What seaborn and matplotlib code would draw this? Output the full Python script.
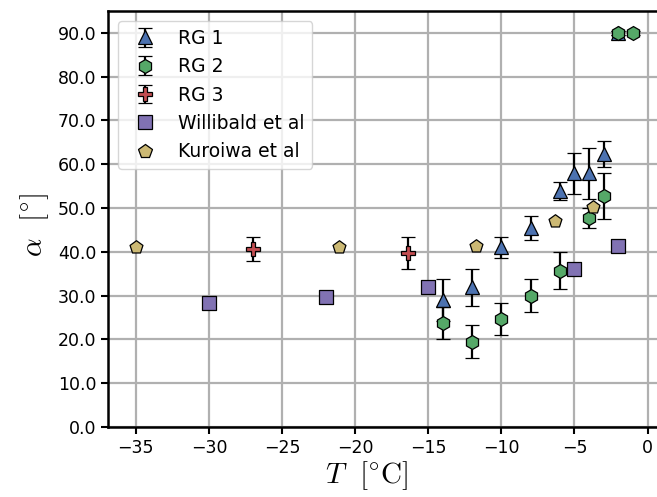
import matplotlib
matplotlib.use("Agg")
import matplotlib.pyplot as plt
import seaborn as sns
import pandas as pd
from matplotlib.ticker import FormatStrFormatter
from matplotlib.lines import Line2D

# ---- data ----
rg1_T = [-14, -12, -10, -8, -6, -5, -4, -3, -2]
rg1_a = [29.0, 31.9, 41.0, 45.5, 53.9, 57.9, 57.9, 62.4, 90.0]
rg1_e = [4.8, 4.2, 2.4, 2.7, 2.1, 4.7, 5.9, 3.0, 0.4]

rg2_T = [-14, -12, -10, -8, -6, -4, -3, -2, -1]
rg2_a = [23.8, 19.5, 24.7, 30.0, 35.7, 47.8, 52.7, 90.0, 90.0]
rg2_e = [3.7, 3.8, 3.7, 3.8, 4.2, 2.3, 5.2, 0.4, 0.4]

rg3_T = [-27, -16.4]
rg3_a = [40.7, 39.7]
rg3_e = [2.7, 3.7]

will_T = [-30, -22, -15, -5, -2]
will_a = [28.3, 29.8, 31.9, 36.0, 41.4]

kuro_T = [-35, -21.1, -11.7, -6.3, -3.7]
kuro_a = [41.2, 41.2, 41.3, 47.1, 50.3]

labels = ["RG 1", "RG 2", "RG 3", "Willibald et al", "Kuroiwa et al"]
x_ticks = [-35, -30, -25, -20, -15, -10, -5, 0]
y_ticks = [0, 10, 20, 30, 40, 50, 60, 70, 80, 90]

# ---- style ----
sns.set_style("ticks")
plt.rcParams["font.family"] = ["DejaVu Sans"]
plt.rcParams["mathtext.fontset"] = "cm"
plt.rcParams["text.color"] = "black"
plt.rcParams["axes.labelcolor"] = "black"
plt.rcParams["xtick.color"] = "black"
plt.rcParams["ytick.color"] = "black"
pal = sns.color_palette("deep")
c_blue, c_green, c_red, c_purple, c_gold = pal[0], pal[2], pal[3], pal[4], pal[8]

W, H = 657, 497
fig = plt.figure(figsize=(W / 100, H / 100), dpi=100)
ax = fig.add_axes([108 / W, 70 / H, (658.5 - 108) / W, (427 - 11) / H])

ms = 10
ekw = dict(ecolor="black", elinewidth=1.6, capsize=5, capthick=1.6,
           markeredgecolor="black", markeredgewidth=0.9, markersize=ms,
           linestyle="none")

h1 = ax.errorbar(rg1_T, rg1_a, yerr=rg1_e, fmt="^", color=c_blue, zorder=3, **ekw)
h2 = ax.errorbar(rg2_T, rg2_a, yerr=rg2_e, fmt="h", color=c_green, zorder=4, **ekw)
h3 = ax.errorbar(rg3_T, rg3_a, yerr=rg3_e, fmt="P", color=c_red, zorder=3, **ekw)

df_w = pd.DataFrame({"T": will_T, "a": will_a})
df_k = pd.DataFrame({"T": kuro_T, "a": kuro_a})
sns.scatterplot(data=df_w, x="T", y="a", marker="s", s=105, color=c_purple,
                edgecolor="black", linewidth=0.9, ax=ax, zorder=5)
sns.scatterplot(data=df_k, x="T", y="a", marker="p", s=95, color=c_gold,
                edgecolor="black", linewidth=0.9, ax=ax, zorder=5)

hw = Line2D([], [], marker="s", color=c_purple, markeredgecolor="black",
            markeredgewidth=0.9, markersize=ms, linestyle="none")
hk = Line2D([], [], marker="p", color=c_gold, markeredgecolor="black",
            markeredgewidth=0.9, markersize=ms, linestyle="none")

ax.set_xlim(-36.9, 0.75)
ax.set_ylim(0, 95)
ax.set_xticks(x_ticks)
ax.set_yticks(y_ticks)
ax.yaxis.set_major_formatter(FormatStrFormatter("%.1f"))
ax.tick_params(labelsize=12.5, width=1.5, length=5, color="black", labelcolor="black")
ax.grid(True, color="#b0b0b0", linewidth=1.6)
ax.set_axisbelow(True)
for s in ["left", "bottom", "top"]:
    ax.spines[s].set_linewidth(1.8)
    ax.spines[s].set_color("black")
ax.spines["right"].set_visible(False)

ax.set_xlabel(r"$T\enspace\,[^{\circ}\mathrm{C}]$", fontsize=21)
ax.set_ylabel(r"$\alpha\enspace\,[^{\circ}]$", fontsize=21)
ax.xaxis.set_label_coords(0.469, -0.077)
ax.yaxis.set_label_coords(-0.103, 0.485)

leg = ax.legend([h1, h2, h3, hw, hk], labels, loc="upper left", fontsize=13.5,
                frameon=True, framealpha=0.8, borderaxespad=0.55)
leg.get_frame().set_edgecolor("#cccccc")
for t in leg.get_texts():
    t.set_color("black")

fig.savefig("out.png", dpi=100)
